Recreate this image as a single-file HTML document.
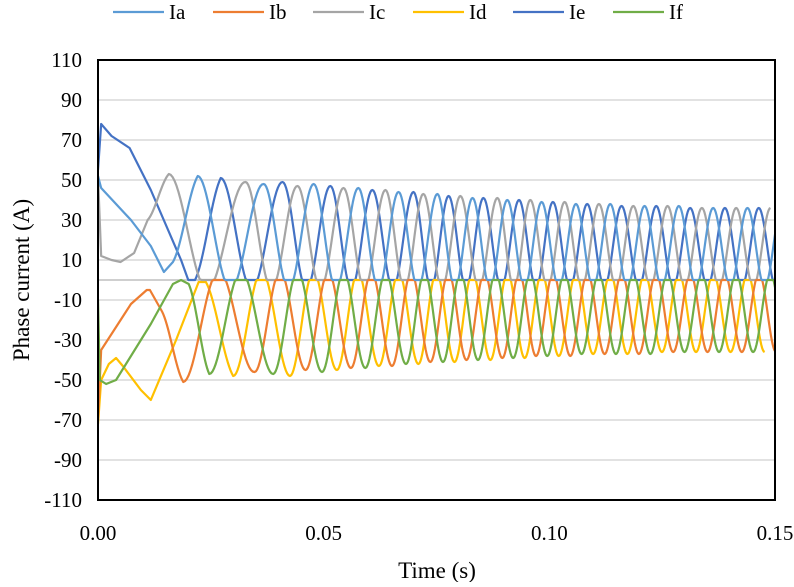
<!DOCTYPE html>
<html><head><meta charset="utf-8"><style>
body{margin:0;background:#fff;}
svg text{font-family:"Liberation Serif",serif;fill:#000;}
</style></head><body>
<svg id="chart" width="794" height="582" viewBox="0 0 794 582" xmlns="http://www.w3.org/2000/svg">
<g id="grid"></g>
<g id="series"></g>
<rect x="98" y="60" width="677" height="440" fill="none" stroke="#000" stroke-width="2"/>
<g id="yticks"></g>
<g id="xticks"></g>
<text x="0" y="0" font-size="23" text-anchor="middle" transform="translate(29,280) rotate(-90)">Phase current (A)</text>
<text x="437" y="578" font-size="23" text-anchor="middle">Time (s)</text>
<g id="legend"></g>
</svg>
<script>
const seriesNames=["Ia","Ib","Ic","Id","Ie","If"];
const seriesColors=["#5B9BD5","#ED7D31","#A5A5A5","#FFC000","#4472C4","#70AD47"];
const yTickValues=[110,90,70,50,30,10,-10,-30,-50,-70,-90,-110];
const xTickValues=[0,0.05,0.10,0.15];
const xTickLabels=["0.00","0.05","0.10","0.15"];
// positive peaks (ms) in order Ic, Ia, Ie repeating
const posPeakTimes=[15.7,22.1,27.2,32.7,36.7,40.9,44.2,47.8,51.5,54.4,57.7,60.8,63.7,66.6,69.9,72.1,75.2,77.7,80.3,83.0,85.4,88.5,90.7,93.3,95.8,98.3,100.8,103.4,105.9,108.4,111.0,113.5,116.0,118.6,121.1,123.7,126.2,128.7,131.2,133.8,136.3,138.9,141.4,143.9,146.4,149.0,151.5,154.0];
const posPeakValues=[53,52,51,49,48,49,47,48,47,46,46,45,45,44,44,43,43,42,42,41,41,41,40,40,40,39,39,39,38,38,38,38,37,37,37,37,37,37,36,36,36,36,36,36,36,36,36,36];
// negative peaks (ms) in order Ib, If, Id repeating
const negPeakTimes=[18.9,24.65,29.95,34.7,38.8,42.55,46.0,49.65,52.95,56.05,59.25,62.25,65.15,68.25,71.0,73.65,76.45,79.0,81.65,84.2,86.95,89.6,92.0,94.55,97.05,99.55,102.1,104.65,107.15,109.7,112.25,114.75,117.3,119.85,122.4,124.95,127.45,129.95,132.5,135.05,137.6,140.15,142.65,145.15,147.7,150.25,152.75];
const negPeakValues=[-51,-47,-48,-46,-47,-48,-45,-46,-45,-44,-44,-43,-43,-42,-42,-41,-41,-41,-40,-40,-40,-39,-39,-39,-38,-38,-38,-38,-37,-37,-37,-37,-37,-37,-37,-36,-36,-36,-36,-36,-36,-36,-36,-36,-36,-36,-36];
// start-up transients (ms, A)
const iaStartT=[0,0.7,7.3,11.7,14.6,16.6];
const iaStartV=[52,46,30,17,4,9];
const ibStartT=[0,0.7,3,7.3,10.8,11.5,14];
const ibStartV=[-70,-35,-27,-12,-5,-5,-15];
const icStartT=[0,0.7,3,5,8,11];
const icStartV=[52,12,10,9,13.5,30];
const idStartT=[0,0.7,2.4,4,5.5,9.5,11.7,17.3,22.3,23.9];
const idStartV=[-72,-50,-42,-39,-43,-55,-60,-30,-1,-1];
const ieStartT=[0,0.7,3,7,11.7,18.4,20,21.5];
const ieStartV=[55,78,72,66,45,10,0,0];
const ifStartT=[0,0.4,1.8,4,6.2,11.7,16.6,18.4,20.1];
const ifStartV=[-10,-50,-52,-50,-42,-22,-2,0,-2];

const X0=98,X1=775,Y0=60,Y1=500;
function xScale(s){return X0+(s-0)/(0.15)*(X1-X0);}
function xScaleMs(ms){return xScale(ms/1000);}
function yScale(v){return Y1-(v+110)/220*(Y1-Y0);}
const NS="http://www.w3.org/2000/svg";
function mk(tag,attrs,parent){const e=document.createElementNS(NS,tag);for(const k in attrs)e.setAttribute(k,attrs[k]);parent.appendChild(e);return e;}

const grid=document.getElementById('grid');
for(const v of yTickValues){
  if(v===110||v===-110)continue;
  const l=mk('line',{x1:X0,x2:X1,y1:yScale(v),y2:yScale(v),stroke:'#d9d9d9','stroke-width':1.5},grid);
  
  
}
const zl=mk('line',{x1:X0,x2:X1,y1:yScale(0),y2:yScale(0),stroke:'#bfbfbf','stroke-width':1.5},grid);



const yt=document.getElementById('yticks');
for(const v of yTickValues){
  const t=mk('text',{x:82,y:yScale(v)+7,'font-size':21,'text-anchor':'end'},yt);
  t.textContent=String(v);
  
  
}
const xt=document.getElementById('xticks');
xTickValues.forEach((v,i)=>{
  const t=mk('text',{x:xScale(v),y:540,'font-size':21,'text-anchor':'middle'},xt);
  t.textContent=xTickLabels[i];
  
  
});

function buildSeries(startT,startV,peakT,peakV,sign){
  const pts=[];
  for(let i=0;i<startT.length-1;i++){
    pts.push([startT[i],startV[i]]);
  }
  // segment from last transient point to first peak (linear with steps)
  const lt=startT[startT.length-1],lv=startV[startV.length-1];
  const n=20;
  for(let k=0;k<=n;k++){const u=k/n;const w=(1-Math.cos(Math.PI*u))/2;pts.push([lt+(peakT[0]-lt)*u,lv+(peakV[0]-lv)*(u*0.5+w*0.5)]);}
  const c=0.83;
  for(let i=0;i<peakT.length-1;i++){
    const t0=peakT[i],t1=peakT[i+1],a0=peakV[i],a1=peakV[i+1];
    const m=40;
    for(let k=1;k<=m;k++){
      const u=k/m;const a=a0+(a1-a0)*u;
      const s=Math.max(0,(c+Math.cos(2*Math.PI*u))/(1+c));
      pts.push([t0+(t1-t0)*u,a*s]);
    }
  }
  return pts;
}
const posT=[[],[],[]],posV=[[],[],[]];
posPeakTimes.forEach((t,i)=>{posT[i%3].push(t);posV[i%3].push(posPeakValues[i]);});
const negT=[[],[],[]],negV=[[],[],[]];
negPeakTimes.forEach((t,i)=>{negT[i%3].push(t);negV[i%3].push(negPeakValues[i]);});
// pos order: Ic(0), Ia(1), Ie(2); neg order: Ib(0), If(1), Id(2)
const seriesPts={
  Ia:buildSeries(iaStartT,iaStartV,posT[1],posV[1]),
  Ic:buildSeries(icStartT,icStartV,posT[0],posV[0]),
  Ie:buildSeries(ieStartT,ieStartV,posT[2],posV[2]),
  Ib:buildSeries(ibStartT,ibStartV,negT[0],negV[0]),
  If:buildSeries(ifStartT,ifStartV,negT[1],negV[1]),
  Id:buildSeries(idStartT,idStartV,negT[2],negV[2])
};
const sg=document.getElementById('series');
mk('clipPath',{id:'clipPlot'},sg).appendChild(Object.assign(document.createElementNS(NS,'rect'),{}));
sg.lastChild.firstChild.setAttribute('x',X0);sg.lastChild.firstChild.setAttribute('y',Y0);
sg.lastChild.firstChild.setAttribute('width',X1-X0);sg.lastChild.firstChild.setAttribute('height',Y1-Y0);
const drawOrder=["Ie","Id","Ic","Ib","Ia","If"];
for(const nm of drawOrder){
  const idx=seriesNames.indexOf(nm);
  const d=seriesPts[nm].map((p,i)=>(i?'L':'M')+xScaleMs(p[0]).toFixed(2)+','+yScale(p[1]).toFixed(2)).join('');
  const p=mk('path',{d:d,fill:'none',stroke:seriesColors[idx],'stroke-width':2.2,'stroke-linejoin':'round','clip-path':'url(#clipPlot)'},sg);
  
  
}
const lg=document.getElementById('legend');
seriesNames.forEach((nm,i)=>{
  const x=113+i*100;
  const g=mk('g',{},lg);
  
  
  mk('line',{x1:x,x2:x+51,y1:12,y2:12,stroke:seriesColors[i],'stroke-width':2.2},g);
  const t=mk('text',{x:x+56,y:19,'font-size':21},g);
  t.textContent=nm;
});
</script>
</body></html>
